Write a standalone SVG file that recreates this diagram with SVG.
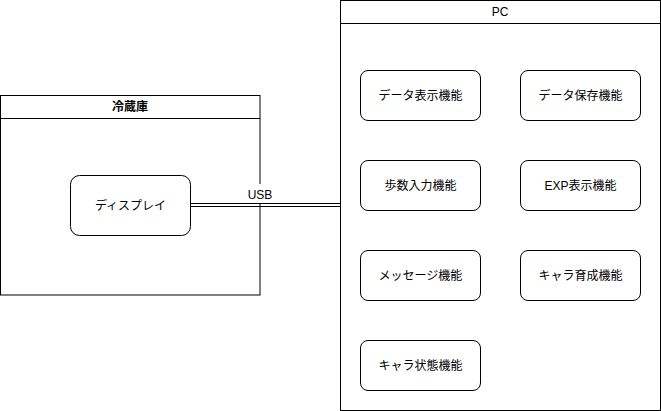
<svg xmlns="http://www.w3.org/2000/svg" width="661" height="411" viewBox="0 0 661 411">
<style>
.box{fill:#fff;stroke:#000;stroke-width:1}
.t{font-family:"Liberation Sans","Noto Sans CJK JP",sans-serif;font-size:12px;fill:#000;text-anchor:middle;dominant-baseline:central}
.ln{stroke:#000;stroke-width:1;fill:none}
</style>
<rect width="661" height="411" fill="#fff"/>
<g id="reizouko">
<rect class="box" x="0.5" y="95.5" width="259.5" height="199.5"/>
<line class="ln" x1="0.5" y1="118.5" x2="260" y2="118.5"/>
<text class="t" x="130" y="107" font-weight="bold">冷蔵庫</text>
</g>
<g id="pc">
<rect class="box" x="340.5" y="0.5" width="320" height="410"/>
<line class="ln" x1="340.5" y1="23.5" x2="660.5" y2="23.5"/>
<text class="t" x="500" y="12">PC</text>
</g>
<g id="display">
<rect class="box" x="70.5" y="175.5" width="120" height="60" rx="9"/>
<text class="t" x="130.5" y="205.5">ディスプレイ</text>
</g>
<g id="connectors">
<line class="ln" x1="190.5" y1="203.5" x2="340.5" y2="203.5"/>
<line class="ln" x1="190.5" y1="206.5" x2="340.5" y2="206.5"/>
<rect x="247" y="184" width="26" height="19" fill="#fff"/>
<line class="ln" x1="260" y1="184" x2="260" y2="203.5"/>
<rect x="247" y="184" width="26" height="19" fill="#fff"/>
<text class="t" x="260" y="195" font-size="11px">USB</text>
</g>
<g id="f1"><rect class="box" x="360.5" y="70.5" width="120" height="50" rx="7.5"/><text class="t" x="420.5" y="95.5">データ表示機能</text></g>
<g id="f2"><rect class="box" x="520.5" y="70.5" width="120" height="50" rx="7.5"/><text class="t" x="580.5" y="95.5">データ保存機能</text></g>
<g id="f3"><rect class="box" x="360.5" y="160.5" width="120" height="50" rx="7.5"/><text class="t" x="420.5" y="185.5">歩数入力機能</text></g>
<g id="f4"><rect class="box" x="520.5" y="160.5" width="120" height="50" rx="7.5"/><text class="t" x="580.5" y="185.5">EXP表示機能</text></g>
<g id="f5"><rect class="box" x="360.5" y="250.5" width="120" height="50" rx="7.5"/><text class="t" x="420.5" y="275.5">メッセージ機能</text></g>
<g id="f6"><rect class="box" x="520.5" y="250.5" width="120" height="50" rx="7.5"/><text class="t" x="580.5" y="275.5">キャラ育成機能</text></g>
<g id="f7"><rect class="box" x="360.5" y="340.5" width="120" height="50" rx="7.5"/><text class="t" x="420.5" y="365.5">キャラ状態機能</text></g>
</svg>
